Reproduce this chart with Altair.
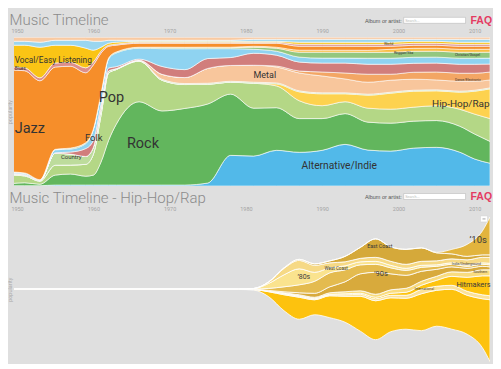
import altair as alt
import pandas as pd

# ---------------- top panel: all genres ----------------
TOP_YEARS = [1949, 1951, 1953, 1955, 1957, 1959, 1960, 1961, 1962, 1963, 1966, 1969, 1972, 1975,
             1978, 1981, 1984, 1987, 1990, 1993, 1996, 1999, 2002, 2005, 2008, 2010, 2012]

alt_indie = [0.3, 0.3, 0.3, 1, 1, 1, 1, 1, 1, 1, 1, 1, 1, 3, 31, 30, 36, 34, 36, 42, 36, 35, 38, 39, 34, 27, 23]
rock = [2, 3, 1.5, 10, 11, 9, 10, 23, 45, 62, 84, 75, 77, 80, 62, 48, 43, 34, 32, 31, 28, 28, 27, 27, 26, 25, 22]
pop = [9, 7, 3, 10, 9, 12, 21, 47, 68, 56, 41, 31, 24, 20, 12, 25, 22, 18, 13, 12, 14, 14, 14, 15, 17, 20, 23]
hiphop = [0, 0, 0, 0, 0, 0, 0, 0, 0, 0, 0, 0, 0, 0, 0, 0, 2, 9, 12, 8, 13, 16, 16, 15, 17, 23, 30]
country = [1, 1, 0.5, 12, 11, 8, 7, 7, 2, 1, 0.5, 1, 1, 1, 1, 1, 1, 1, 1, 1, 1, 1, 1, 1, 1, 1, 1]
metal = [0, 0, 0, 0, 0, 0, 0, 0, 0, 0, 0.5, 5, 6, 15, 16, 17, 16, 18, 17, 14, 12, 12, 11, 10, 10, 9, 8]
dance = [0, 0, 0, 0, 0, 0, 0, 0, 0, 0, 0, 0, 0, 0, 0, 0, 1, 2, 4, 6, 8, 6, 7, 8, 8, 8, 8]
rnb = [0.5, 0.5, 0.3, 0.5, 2, 8, 7, 4, 3, 2, 1, 8, 8, 10, 8, 12, 11, 9, 9, 10, 10, 10, 9, 9, 9, 9, 8]
folk = [1, 1, 0.5, 3, 3, 5, 11, 10, 9, 14, 11, 18, 21, 10, 9, 4, 4, 5, 5, 5, 6, 6, 6, 6, 6, 6, 6]
christian = [0.5, 0.5, 0.3, 0.5, 1, 1, 0.5, 0.5, 1, 1, 1, 1, 1, 1, 1, 2, 3, 5, 6, 6, 6, 6, 6, 6, 6, 6, 6]
reggae = [0, 0, 0, 0, 0, 0, 0, 0, 0, 0, 0, 0.5, 0.5, 0.5, 0.5, 1, 1, 2, 2, 2, 2, 3, 3, 3, 3, 3, 3]
jazz = [103, 104, 100, 83, 82, 71, 65, 41, 12, 7, 4, 4, 4, 4, 4, 3, 4, 4, 4, 4, 4, 3, 3, 3, 3, 3, 3]
blues = [3, 3, 3, 4, 4, 5, 3, 2, 1, 1, 1, 1, 1, 1, 1, 1, 1, 2, 2, 2, 2, 2, 2, 2, 2, 2, 2]
vocal = [22, 23, 31, 18, 17, 20, 12, 4, 2, 2, 1, 1, 1, 1, 1, 1, 1, 2, 2, 2, 2, 2, 2, 2, 2, 2, 2]
world = [4, 4, 5, 5, 5, 8, 9, 6, 3, 2, 1, 1, 1, 1, 1, 2, 2, 3, 3, 3, 3, 3, 2, 2, 3, 3, 3]
classical = [4, 4, 5, 3, 3, 3, 4, 4, 3, 3, 3, 3, 3, 3, 3, 2, 2, 2, 2, 2, 2, 2, 2, 2, 2, 2, 2]

TOP_GENRES = ["Alternative/Indie", "Rock", "Pop", "Hip-Hop/Rap", "Country", "Metal",
              "Dance/Electronic", "R&B/Soul", "Folk", "Christian/Gospel", "Reggae/Ska",
              "Jazz", "Blues", "Vocal/Easy Listening", "World", "Classical"]
TOP_SERIES = [alt_indie, rock, pop, hiphop, country, metal, dance, rnb, folk, christian,
              reggae, jazz, blues, vocal, world, classical]
TOP_COLORS = ["#52b9e9", "#62b65d", "#b4d786", "#fdd24f", "#bddc9c", "#f8c69c",
              "#f3a664", "#d17e7c", "#8fd3f1", "#93c77f", "#f9bd43",
              "#f68e2a", "#de8f8b", "#fac415", "#9ad6f0", "#f9caa2"]

TOP_LABELS = ["Jazz", "Vocal/Easy Listening", "Blues", "Country", "Folk", "Pop", "Rock", "Metal",
              "Alternative/Indie", "Hip-Hop/Rap", "World", "Reggae/Ska", "Christian/Gospel",
              "Dance/Electronic"]
TOP_LABEL_YEAR = [1949.7, 1949.7, 1949.7, 1955.75, 1958.9, 1960.7, 1964.4, 1981.0,
                  1987.3, 2004.4, 1998.1, 1999.4, 2007.4, 2007.4]
TOP_LABEL_FRAC = [0.383, 0.839, 0.789, 0.195, 0.322, 0.591, 0.285, 0.745,
                  0.134, 0.550, 0.953, 0.893, 0.883, 0.715]
TOP_LABEL_SIZE = [14.5, 8.3, 4.5, 6, 9.5, 14.5, 14.5, 9, 10.3, 10, 3.6, 3.6, 3.4, 3.4]

# ---------------- bottom panel: Hip-Hop/Rap sub-genres ----------------
BOT_YEARS = [1949, 1979, 1981, 1983, 1985, 1987, 1989, 1991, 1993, 1995, 1997, 1999,
             2001, 2003, 2005, 2007, 2009, 2011, 2012]

pop_rap = [0.1, 0.1, 0.5, 5, 16, 22, 15, 22, 26, 35, 39, 34, 31, 37, 36, 40, 39, 49, 62]
international = [0.03, 0.03, 0.1, 0.5, 1, 1, 1, 1, 1.5, 2, 2, 2.5, 3, 4.5, 4, 4, 4, 4, 4]
hitmakers = [0.03, 0.03, 0.1, 0.3, 0.5, 0.5, 0.5, 0.5, 1, 1, 1.5, 2, 3, 4, 6, 9, 14, 19, 20]
southern = [0.03, 0.03, 0.1, 0.3, 0.5, 1, 1, 1.5, 2, 2.5, 3, 3.5, 4, 4, 4, 4.5, 5, 6, 6]
nineties = [0.03, 0.03, 0.1, 0.3, 1, 2, 4, 6, 10, 17, 22, 16, 13, 10, 7, 5, 4, 3.5, 3]
west_coast = [0.03, 0.03, 0.2, 2, 5, 8, 12, 14, 12, 9, 8, 6, 5, 4, 3, 2.5, 2, 2, 2]
eighties = [0.03, 0.03, 0.3, 5, 12, 16, 9, 5, 4, 3, 3, 2.5, 2, 2, 1.5, 1.5, 1.5, 1.5, 1.5]
indie_ug = [0.03, 0.03, 0.1, 1.4, 6.5, 8.5, 7, 5, 4, 3.5, 4, 4, 4, 4, 4, 4, 5, 5.5, 6]
east_coast = [0.03, 0.03, 0.1, 0.2, 0.5, 1, 1.5, 2, 5.5, 11, 18.5, 14.5, 15, 13.5, 8, 5, 3.5, 2.5, 2.5]
tens = [0, 0, 0, 0, 0, 0, 0, 0, 0, 0, 0, 0, 0, 0, 0.5, 4.5, 12, 24, 38]

BOT_GENRES = ["Pop Rap", "International", "Hitmakers", "Southern", "'90s", "West Coast",
              "'80s", "Indie/Underground", "East Coast", "'10s"]
BOT_SERIES = [pop_rap, international, hitmakers, southern, nineties, west_coast, eighties,
              indie_ug, east_coast, tens]
BOT_COLORS = ["#fdc20e", "#fbe29a", "#fec40f", "#f9dc7f", "#d8aa3c", "#e4bb4f",
              "#fae38e", "#f6d985", "#d5a93a", "#e2b43d"]

BOT_LABELS = ["\u201980s", "West Coast", "\u201990s", "East Coast", "International", "Hitmakers",
              "Indie/Underground", "Southern", "\u201910s"]
BOT_LABEL_YEAR = [1986.75, 1990.3, 1996.8, 1995.9, 2002.1, 2007.6, 2007.0, 2009.8, 2009.3]
BOT_LABEL_OFFSET = [12, 20, 15, 43, 0, 4, 25, 17.5, 49.5]
BOT_LABEL_SIZE = [7, 4.6, 7.5, 5.3, 3.5, 7.5, 3.5, 3.5, 9.5]

YEAR_TICKS = [1950, 1960, 1970, 1980, 1990, 2000, 2010]
X_DOMAIN = [1949.6, 2012]
PW, PH = 477, 149


def long_frame(years, genres, series):
    rows = []
    for rank, (g, vals) in enumerate(zip(genres, series)):
        for y, v in zip(years, vals):
            rows.append({"year": y, "genre": g, "value": v, "rank": rank})
    return pd.DataFrame(rows)


top_df = long_frame(TOP_YEARS, TOP_GENRES, TOP_SERIES)
bot_df = long_frame(BOT_YEARS, BOT_GENRES, BOT_SERIES)

bot_max = bot_df.groupby("year")["value"].sum().max()
bot_mid = bot_max / 2.0
bot_domain = [bot_mid - PH / 2.0, bot_mid + PH / 2.0]

top_lab_df = pd.DataFrame({"year": TOP_LABEL_YEAR, "frac": TOP_LABEL_FRAC,
                           "label": TOP_LABELS, "fs": TOP_LABEL_SIZE})
bot_lab_df = pd.DataFrame({"year": BOT_LABEL_YEAR, "label": BOT_LABELS, "fs": BOT_LABEL_SIZE,
                           "ypos": [bot_mid + o for o in BOT_LABEL_OFFSET]})


def x_enc():
    return alt.X("year:Q", scale=alt.Scale(domain=X_DOMAIN, nice=False, zero=False),
                 axis=alt.Axis(orient="top", values=YEAR_TICKS, format="d", title=None,
                               ticks=False, domain=False, grid=False, labelFontSize=5.5,
                               labelColor="#a3a3a3", labelPadding=3.5, labelFont="Roboto"))


def y_axis():
    return alt.Axis(title="popularity", labels=False, ticks=False, domain=False, grid=False,
                    titleFontSize=5.5, titleColor="#a8a8a8", titlePadding=1,
                    titleFontWeight="normal", titleFont="Roboto")


one = pd.DataFrame({"k": [0]})


def header_layers(title_text, base_y):
    ttl = alt.Chart(one).mark_text(text=title_text, align="left", baseline="alphabetic",
                                   fontSize=15, font="Roboto", fontWeight=300,
                                   color="#8b8b8b").encode(
        x=alt.value(-4.5), y=alt.value(-12))
    lbl = alt.Chart(one).mark_text(text="Album or artist:", align="right", baseline="alphabetic",
                                   fontSize=5.5, color="#555555", font="Liberation Sans").encode(
        x=alt.value(388.5), y=alt.value(base_y))
    box = alt.Chart(one).mark_rect(fill="white", stroke="#b0b0b0", strokeWidth=0.5).encode(
        x=alt.value(390.5), x2=alt.value(452.5), y=alt.value(base_y - 5.5), y2=alt.value(base_y + 0.5))
    ph = alt.Chart(one).mark_text(text="Search...", align="left", baseline="alphabetic",
                                  fontSize=3.6, color="#b8b8b8", font="Liberation Sans").encode(
        x=alt.value(392), y=alt.value(base_y - 1))
    faq = alt.Chart(one).mark_text(text="FAQ", align="left", baseline="alphabetic", fontSize=10.5,
                                   fontWeight="bold", color="#e43a62", font="Liberation Sans").encode(
        x=alt.value(457.5), y=alt.value(base_y + 1.5))
    return [ttl, lbl, box, ph, faq]


top_area = alt.Chart(top_df).mark_area(interpolate="monotone", stroke="white", strokeWidth=0.6,
                                       clip=True).encode(
    x=x_enc(),
    y=alt.Y("value:Q", stack="normalize", scale=alt.Scale(domain=[0, 1], nice=False), axis=y_axis()),
    color=alt.Color("genre:N", scale=alt.Scale(domain=TOP_GENRES, range=TOP_COLORS), legend=None),
    order=alt.Order("rank:Q", sort="ascending"),
)
top_text = alt.Chart(top_lab_df).mark_text(align="left", baseline="middle", font="Roboto",
                                           color="#333333").encode(
    x=x_enc(),
    y=alt.Y("frac:Q", scale=alt.Scale(domain=[0, 1], nice=False), axis=y_axis()),
    text="label:N",
    size=alt.Size("fs:Q", scale=None),
)
top = alt.layer(top_area, top_text, *header_layers("Music Timeline", -14.5)).properties(
    width=PW, height=PH)

bot_area = alt.Chart(bot_df).mark_area(interpolate="monotone", stroke="white", strokeWidth=0.8,
                                       clip=True).encode(
    x=x_enc(),
    y=alt.Y("value:Q", stack="center", scale=alt.Scale(domain=bot_domain, nice=False, zero=False),
            axis=y_axis()),
    color=alt.Color("genre:N", scale=alt.Scale(domain=BOT_GENRES, range=BOT_COLORS), legend=None),
    order=alt.Order("rank:Q", sort="ascending"),
)
bot_text = alt.Chart(bot_lab_df).mark_text(align="left", baseline="middle", font="Roboto",
                                           color="#3a3a3a").encode(
    x=x_enc(),
    y=alt.Y("ypos:Q", scale=alt.Scale(domain=bot_domain, nice=False, zero=False), axis=y_axis()),
    text="label:N",
    size=alt.Size("fs:Q", scale=None),
)
btn = alt.Chart(one).mark_rect(fill="white", stroke="#cccccc", strokeWidth=0.4).encode(
    x=alt.value(467.5), x2=alt.value(474.5), y=alt.value(1), y2=alt.value(7))
btn_dash = alt.Chart(one).mark_rule(color="#666666", strokeWidth=0.6).encode(
    x=alt.value(469.5), x2=alt.value(472.5), y=alt.value(4))
bottom = alt.layer(bot_area, bot_text, btn, btn_dash,
                   *header_layers("Music Timeline - Hip-Hop/Rap", -16)).properties(
    width=PW, height=PH)

chart = alt.vconcat(top, bottom, spacing=5).resolve_scale(color="independent").properties(
    padding={"top": 5, "left": 0, "right": 0, "bottom": 0},
    background="#dfdfdf").configure_view(strokeWidth=0)

chart.save("out.html", embed_options={"renderer": "svg", "actions": False})
